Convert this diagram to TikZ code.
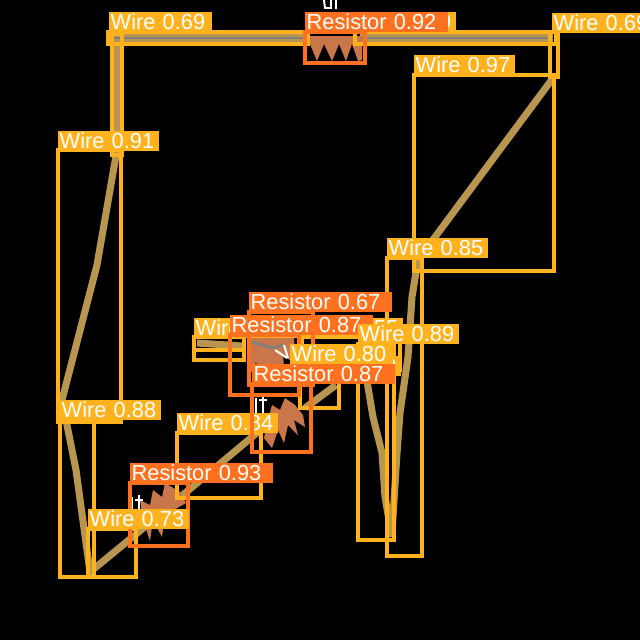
\documentclass[tikz,border=0pt]{standalone}
\usepackage{fontspec}
\setmainfont{Liberation Sans}
\definecolor{wireyel}{HTML}{FFB21D}
\definecolor{resora}{HTML}{FF701F}
\definecolor{wiretan}{HTML}{B8964F}
\definecolor{restan}{HTML}{C8764A}
\tikzset{
	wirebox/.style={draw=wireyel,line width=2.2pt},
	resbox/.style={draw=resora,line width=2.2pt},
	wirelab/.style={fill=wireyel,text=white,anchor=south west,inner ysep=0pt,inner xsep=1pt,minimum height=0.5cm,text width=2.45cm,font=\fontsize{15.5}{16}\selectfont},
	reslab/.style={wirelab,fill=resora,text width=3.5cm},
	wirepath/.style={draw=wiretan,line width=5pt,line join=round},
	teeth/.style={fill=restan},
	valmark/.style={draw=white,line width=1.4pt}
}
\begin{document}
\begin{tikzpicture}[x=0.025cm,y=-0.025cm]
\fill[black](0,0)rectangle(640,640);
\useasboundingbox (0,0) rectangle (640,640);
\clip (0,0) rectangle (640,640);
% conductors
\draw[wirepath,line width=7pt](110,38)--(305,38);
\draw[wirepath,line width=7pt](360,38)--(553,38);
\draw[wirepath,line width=7pt](117,38)--(117,150);
\draw[wirepath,draw=gray,line width=1.5pt](110,38)--(305,38);
\draw[wirepath,draw=gray,line width=1.5pt](360,38)--(553,38);
\draw[wirepath](117,150)--(97,265)--(62,400)--(76,470)--(90,572)--(135,535);
\draw[wirepath](135,535)--(258,432);
\draw[wirepath](305,408)--(336,385);
\draw[wirepath](553,78)--(418,260)--(412,297)--(408,357)--(400,413)--(397,453)--(392,533);
\draw[wirepath](362,345)--(368,387)--(373,417)--(382,453)--(385,497)--(392,537);
\draw[wirepath,line width=5pt](197,343)--(242,346);
% resistor teeth
\fill[teeth](308,36)--(310,44)--(317,61)--(324,44)--(332,61)--(339,44)--(346,61)--(352,44)--(358,61)--(362,60)--(362,36)--cycle;
\fill[teeth](140,500)--(143,520)--(150,541)--(153,520)--(162,537)--(165,515)--(186,503)--(180,492)--(165,483)--(162,497)--(153,490)--(150,505)--cycle;
\fill[teeth](268,420)--(264,438)--(272,448)--(278,430)--(284,443)--(288,425)--(298,435)--(294,420)--(305,427)--(303,415)--(295,405)--(285,398)--(280,410)--(272,405)--cycle;
\fill[teeth](250,338)--(248,380)--(256,362)--(264,385)--(272,365)--(285,378)--(283,355)--(296,365)--(294,338)--cycle;
\draw[draw=gray,line width=2pt](252,342)--(272,348)--(283,345);
% value marks
\draw[valmark](324,0)--(325,8)--(331,8)--(331,0) (336,0)--(336,9);
\draw[valmark](132,497)--(132,515) (139,495)--(139,517) (135,500)--(143,500);
\draw[valmark](256,398)--(256,414) (263,396)--(263,415) (259,400)--(267,400);
\draw[valmark](275,350)--(287,358) (284,345)--(288,358);
% wire boxes
\draw[wirebox](108,32)rectangle(308,44);
\draw[wirebox](112,34)rectangle(122,155);
\draw[wirebox](355,32)rectangle(556,44);
\draw[wirebox](550,32)rectangle(558,77);
\draw[wirebox](414,75)rectangle(554,271);
\draw[wirebox](58,150)rectangle(121,422);
\draw[wirebox](60,420)rectangle(94,577);
\draw[wirebox](88,529)rectangle(136,577);
\draw[wirebox](177,433)rectangle(261,498);
\draw[wirebox](194,337)rectangle(244,360);
\draw[wirebox](194,350)--(244,350);
\draw[wirebox](302,337)rectangle(400,370);
\draw[wirebox](300,364)rectangle(339,408);
\draw[wirebox](387,258)rectangle(422,556);
\draw[wirebox](358,344)rectangle(394,540);
% labels at the back
\node[wirelab,text width=2.5cm](labA)at(109,32){Wire 0.69};
\node[wirelab](labB)at(355,32){Wire 0.69};
\node[wirelab](labC)at(552,33){Wire 0.69};
\node[wirelab](labD)at(414,75){Wire 0.97};
\node[wirelab](labE)at(58,151){Wire 0.91};
\node[wirelab](labF)at(60,420){Wire 0.88};
\node[wirelab](labG)at(177,433){Wire 0.84};
\node[wirelab,text width=2.6cm](labH)at(194,338){Wire 0.55};
\node[wirelab](labI)at(302,338){Wire 0.55};
\node[wirelab](labJ)at(300,376){Wire 0.59};
% resistor boxes
\draw[resbox](305,32)rectangle(365,63);
\draw[resbox](249,312)rectangle(313,385);
\draw[resbox](230,335)rectangle(299,395);
\draw[resbox](130,483)rectangle(188,546);
\node[reslab](labK)at(305,32){Resistor 0.92};
\node[reslab](labL)at(249,312){Resistor 0.67};
\node[reslab](labM)at(230,335){Resistor 0.87};
\node[reslab](labN)at(130,483){Resistor 0.93};
% labels in front
\node[wirelab](labO)at(387,258){Wire 0.85};
\node[wirelab,text width=2.5cm](labP)at(290,364){Wire 0.80};
\node[wirelab](labQ)at(358,344){Wire 0.89};
\node[wirelab](labR)at(88,529){Wire 0.73};
\draw[resbox](252,384)rectangle(311,452);
\node[reslab](labS)at(252,384){Resistor 0.87};
\end{tikzpicture}
\end{document}
